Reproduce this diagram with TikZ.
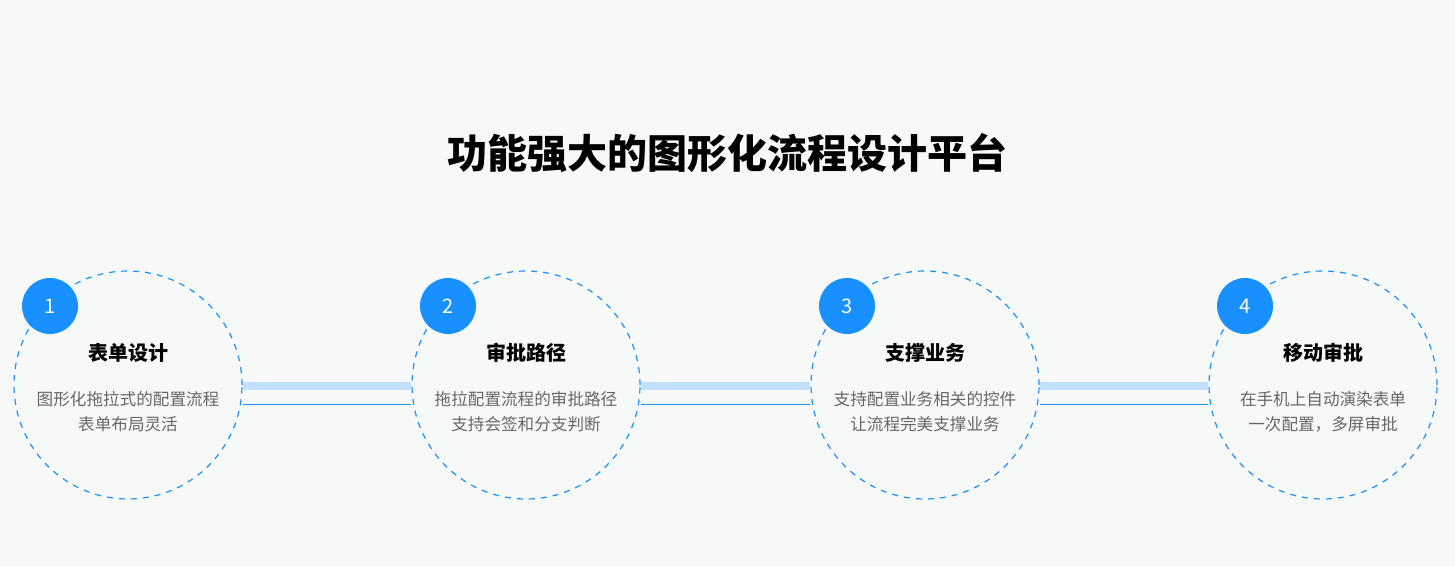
\documentclass[tikz,border=0pt]{standalone}
\usepackage{fontspec}
\newfontfamily\cjk{Noto Sans CJK SC}
\newfontfamily\cjkb{Noto Sans CJK SC Bold}
\definecolor{bgcol}{HTML}{F7F9F9}
\definecolor{mainblue}{HTML}{1890FF}
\definecolor{barblue}{HTML}{C2E0FB}
\definecolor{txtgray}{HTML}{666666}
\tikzset{
  ring/.style={draw=mainblue, dashed, line width=0.6pt, circle, minimum size=114pt},
  badge/.style={fill=mainblue, circle, minimum size=28pt, inner sep=0pt, text=white, font=\cjk\fontsize{10}{10}\selectfont},
  head/.style={font=\cjk\bfseries\fontsize{10}{12}\selectfont},
  desc/.style={text=txtgray, align=center, font=\cjk\fontsize{8.3}{12.5}\selectfont}
}
\begin{document}
\begin{tikzpicture}[x=0.5pt, y=-0.5pt]
  \fill[bgcol] (0,0) rectangle (1455,566);
  \useasboundingbox (0,0) rectangle (1455,566);
  \node[font=\cjk\bfseries\fontsize{20}{24}\selectfont] (title) at (727,153) {功能强大的图形化流程设计平台};
  % four steps
  \foreach \i/\x/\h/\da/\db in {1/128/表单设计/图形化拖拉式的配置流程/表单布局灵活,
                               2/526/审批路径/拖拉配置流程的审批路径/支持会签和分支判断,
                               3/925/支撑业务/支持配置业务相关的控件/让流程完美支撑业务,
                               4/1323/移动审批/在手机上自动演染表单/一次配置，多屏审批} {
    \node[ring] (ring\i) at (\x,385) {};
    \node[head] (head\i) at (\x,353) {\h};
    \node[desc] (desc\i) at (\x,412) {\da\\\db};
    \node[badge] (badge\i) at (\x-78,306) {\i};
  }
  % links
  \foreach \a/\b in {1/2,2/3,3/4} {
    \coordinate (p\a) at ([yshift=-0.5pt]ring\a.east);
    \coordinate (q\b) at ([yshift=-0.5pt]ring\b.west);
    \draw[barblue, line width=3.5pt] ([yshift=-0.5pt]ring\a.east) -- ([yshift=-0.5pt]ring\b.west);
    \draw[mainblue, line width=0.5pt] ([yshift=-9.5pt]ring\a.east) -- ([yshift=-9.5pt]ring\b.west);
  }
\end{tikzpicture}
\end{document}
